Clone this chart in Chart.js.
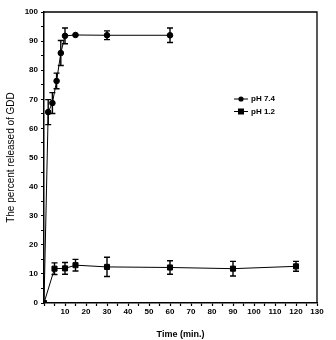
<!DOCTYPE html>
<html>
<head>
<meta charset="utf-8">
<script src="https://cdn.jsdelivr.net/npm/chart.js@4"></script>
<style>
  html, body { margin: 0; padding: 0; background: #fff; }
  #wrap { width: 336px; height: 340px; }
</style>
</head>
<body>
<div id="wrap"><canvas id="chart" width="336" height="340"></canvas></div>
<script>
'use strict';

// pH 7.4
const highTime  = [0, 2, 4, 6, 8, 10, 15, 30, 60];
const highValue = [0, 65.6, 68.7, 76.3, 85.9, 91.8, 92.1, 92.0, 92.0];
const highErr   = [0, 4.3, 3.6, 2.7, 4.3, 2.7, 0, 1.5, 2.5];

// pH 1.2
const lowTime  = [0, 5, 10, 15, 30, 60, 90, 120];
const lowValue = [0, 11.8, 11.9, 13.0, 12.4, 12.2, 11.8, 12.6];
const lowErr   = [0, 2.0, 2.0, 2.0, 3.3, 2.3, 2.5, 1.7];

const seriesLabels = ['pH 7.4', 'pH 1.2'];
const FONT = '"Liberation Sans", Arial, sans-serif';

const toPoints = (xs, ys, es) => xs.map((x, i) => ({ x, y: ys[i], err: es[i] }));

// error bars + frame + legend
const extras = {
  id: 'extras',
  afterDatasetsDraw(chart) {
    const { ctx, scales: { x, y }, chartArea: a } = chart;
    ctx.save();
    ctx.strokeStyle = '#000';
    ctx.lineWidth = 1.4;
    chart.data.datasets.forEach(ds => {
      ds.data.forEach(p => {
        if (!p.err) return;
        const px = x.getPixelForValue(p.x);
        const top = y.getPixelForValue(p.y + p.err);
        const bot = y.getPixelForValue(p.y - p.err);
        ctx.beginPath();
        ctx.moveTo(px, top); ctx.lineTo(px, bot);
        ctx.moveTo(px - 3, top); ctx.lineTo(px + 3, top);
        ctx.moveTo(px - 3, bot); ctx.lineTo(px + 3, bot);
        ctx.stroke();
      });
    });

    // box frame (top & right)
    ctx.lineWidth = 1.3;
    ctx.beginPath();
    ctx.moveTo(a.left, a.top); ctx.lineTo(a.right, a.top); ctx.lineTo(a.right, a.bottom);
    ctx.stroke();

    // legend
    const lx = 234, ly = [99, 111.5];
    ctx.font = 'bold 8px ' + FONT;
    ctx.textBaseline = 'middle';
    ctx.fillStyle = '#000';
    chart.data.datasets.forEach((ds, i) => {
      ctx.lineWidth = 1;
      ctx.beginPath();
      ctx.moveTo(lx, ly[i]); ctx.lineTo(lx + 14, ly[i]);
      ctx.stroke();
      if (ds.pointStyle === 'rect') ctx.fillRect(lx + 7 - 3, ly[i] - 3, 6, 6);
      else { ctx.beginPath(); ctx.arc(lx + 7, ly[i], 2.6, 0, Math.PI * 2); ctx.fill(); }
      ctx.fillText(ds.label, lx + 17, ly[i]);
    });
    ctx.restore();
  }
};

new Chart(document.getElementById('chart'), {
  type: 'scatter',
  data: {
    datasets: [
      {
        label: seriesLabels[0],
        data: toPoints(highTime, highValue, highErr),
        showLine: true,
        borderColor: '#000',
        backgroundColor: '#000',
        borderWidth: 1,
        pointStyle: 'circle',
        pointRadius: 2.8,
        pointHoverRadius: 2.8
      },
      {
        label: seriesLabels[1],
        data: toPoints(lowTime, lowValue, lowErr),
        showLine: true,
        borderColor: '#000',
        backgroundColor: '#000',
        borderWidth: 1,
        pointStyle: 'rect',
        pointRadius: 3.6,
        pointHoverRadius: 3.6
      }
    ]
  },
  options: {
    responsive: false,
    animation: false,
    layout: { padding: { top: 12, right: 19, left: 0, bottom: 0 } },
    plugins: { legend: { display: false }, tooltip: { enabled: false } },
    scales: {
      x: {
        type: 'linear',
        min: 0, max: 130,
        afterFit: s => { s.height = 37; },
        ticks: {
          stepSize: 5,
          autoSkip: false,
          maxRotation: 0,
          padding: 1,
          color: '#000',
          font: { family: FONT, size: 8, weight: 'bold' },
          callback: v => (v % 10 === 0 && v !== 0) ? v : ''
        },
        grid: { drawOnChartArea: false, tickLength: 3, tickColor: '#000', tickWidth: 1.2 },
        border: { color: '#000', width: 1.5 },
        title: {
          display: true, text: 'Time (min.)', color: '#000',
          font: { family: FONT, size: 9, weight: 'bold' },
          padding: { top: 4, bottom: 0 }
        }
      },
      y: {
        min: 0, max: 100,
        afterFit: s => { s.width = 44; },
        ticks: {
          stepSize: 5,
          autoSkip: false,
          padding: 3,
          color: '#000',
          font: { family: FONT, size: 8, weight: 'bold' },
          callback: v => (v % 10 === 0) ? v : ''
        },
        grid: { drawOnChartArea: false, tickLength: 3, tickColor: '#000', tickWidth: 1.2 },
        border: { color: '#000', width: 1.5 },
        title: {
          display: true, text: 'The percent released of GDD', color: '#000',
          font: { family: FONT, size: 10, weight: 'normal' },
          padding: { top: 5, bottom: 4 }
        }
      }
    }
  },
  plugins: [extras]
});
</script>
</body>
</html>
